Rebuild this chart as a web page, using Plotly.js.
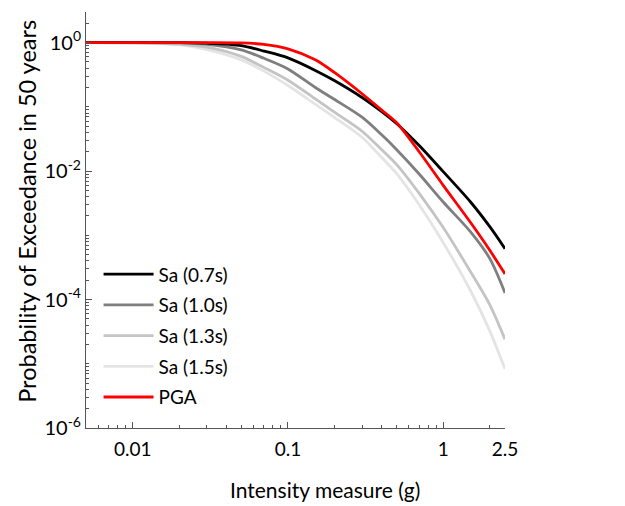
<!DOCTYPE html>
<html>
<head>
<meta charset="utf-8">
<script src="https://cdn.plot.ly/plotly-3.0.1.min.js"></script>
<style>html,body{margin:0;padding:0;background:#fff;}#chart{width:625px;height:506px;}</style>
</head>
<body>
<div id="chart"></div>
<script>
// Intensity measure (g)
const im = [0.005, 0.01, 0.02, 0.03, 0.05, 0.07, 0.1, 0.15, 0.2, 0.3, 0.4, 0.5, 0.7, 1.0, 1.5, 2.0, 2.5];
// Probability of exceedance in 50 years
const sa07 = [1, 1, 1, 0.98, 0.90, 0.74, 0.58, 0.37, 0.255, 0.14, 0.085, 0.055, 0.025, 0.0098, 0.0033, 0.00135, 0.00062];
const sa10 = [1, 1, 0.99, 0.94, 0.77, 0.57, 0.39, 0.20, 0.13, 0.069, 0.037, 0.0217, 0.0090, 0.0033, 0.00113, 0.00043, 0.000127];
const sa13 = [1, 0.995, 0.95, 0.85, 0.61, 0.41, 0.26, 0.133, 0.082, 0.0417, 0.0217, 0.0127, 0.0045, 0.00132, 0.00027, 0.000082, 0.000024];
const sa15 = [1, 0.98, 0.92, 0.78, 0.54, 0.36, 0.215, 0.11, 0.068, 0.0336, 0.0164, 0.0092, 0.0030, 0.00077, 0.000137, 0.000032, 0.0000083];
const pga  = [1, 1, 1, 1, 0.99, 0.94, 0.80, 0.54, 0.34, 0.16, 0.09, 0.057, 0.020, 0.0060, 0.00158, 0.00058, 0.00025];

const seriesNames = ['Sa (0.7s)', 'Sa (1.0s)', 'Sa (1.3s)', 'Sa (1.5s)', 'PGA'];
const seriesData = [sa07, sa10, sa13, sa15, pga];
const seriesColors = ['#000000', '#7f7f7f', '#c4c4c4', '#e4e4e4', '#ff0000'];

const yTickVals = [1, 1e-2, 1e-4, 1e-6];
const yTickText = ['10<sup>0</sup>', '10<sup>-2</sup>', '10<sup>-4</sup>', '10<sup>-6</sup>'];
const xTickVals = [0.01, 0.1, 1, 2.5];
const xTickText = ['0.01', '0.1', '1', '2.5'];
const xTitle = 'Intensity measure (g)';
const yTitle = 'Probability of Exceedance in 50 years';

const traces = seriesNames.map((n, i) => ({
  x: im, y: seriesData[i], name: n, type: 'scatter', mode: 'lines',
  line: {color: seriesColors[i], width: 2.8, shape: 'spline', smoothing: 0.8},
  legendgroup: 'g' + i, legendrank: i + 1
}));
// draw order: lightest first, red on top
const drawn = [3, 2, 1, 0, 4].map(i => traces[i]);

const font = 'Lato, "Open Sans", sans-serif';
const layout = {
  width: 625, height: 506,
  margin: {l: 86, r: 120, t: 12, b: 78},
  paper_bgcolor: '#fff', plot_bgcolor: '#fff',
  font: {family: font, color: '#000', size: 18},
  showlegend: true,
  legend: {
    x: 0.03, y: 0.415, xanchor: 'left', yanchor: 'top',
    bgcolor: 'rgba(0,0,0,0)', font: {family: font, size: 19, color: '#000'},
    traceorder: 'grouped', tracegroupgap: 3, itemwidth: 50
  },
  xaxis: {
    type: 'log', range: [Math.log10(0.005), Math.log10(2.5)],
    tickmode: 'array', tickvals: xTickVals, ticktext: xTickText,
    ticks: 'inside', ticklen: 6, tickcolor: '#555', showgrid: false, zeroline: false,
    showline: true, linecolor: '#555', linewidth: 1,
    tickfont: {family: font, size: 19}, ticklabelstandoff: 4,
    minor: {dtick: 'D1', ticks: 'inside', ticklen: 3, tickcolor: '#555', showgrid: false}
  },
  yaxis: {
    type: 'log', range: [-6, Math.log10(3)],
    tickmode: 'array', tickvals: yTickVals, ticktext: yTickText,
    ticks: 'inside', ticklen: 6, tickcolor: '#555', showgrid: false, zeroline: false,
    showline: true, linecolor: '#555', linewidth: 1,
    tickfont: {family: font, size: 20},
    minor: {dtick: 'D1', ticks: 'inside', ticklen: 3, tickcolor: '#555', showgrid: false}
  },
  annotations: [{
    text: xTitle, xref: 'paper', yref: 'paper', x: 0.57, y: -0.149,
    xanchor: 'center', yanchor: 'middle', showarrow: false,
    font: {family: font, size: 21, color: '#000'}
  }, {
    text: yTitle, xref: 'paper', yref: 'paper', x: -0.141, y: 0.522,
    xanchor: 'center', yanchor: 'middle', showarrow: false, textangle: -90,
    font: {family: font, size: 23.5, color: '#000'}
  }]
};

Plotly.newPlot('chart', drawn, layout, {staticPlot: true, displayModeBar: false});
</script>
</body>
</html>
